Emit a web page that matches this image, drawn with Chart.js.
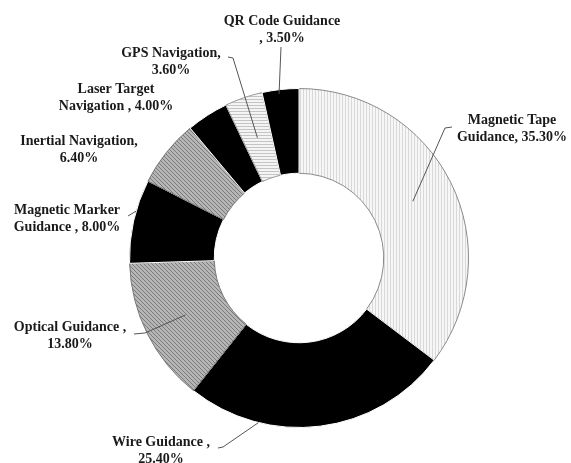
<!DOCTYPE html>
<html>
<head>
<meta charset="utf-8">
<script src="https://cdn.jsdelivr.net/npm/chart.js@4/dist/chart.umd.min.js"></script>
<style>
html,body{margin:0;padding:0;background:#fff;}
#wrap{width:571px;height:463px;position:relative;}
</style>
</head>
<body>
<div id="wrap"><canvas id="c" width="571" height="463"></canvas></div>
<script>
// ---- data ----
const categories = ["Magnetic Tape Guidance", "Wire Guidance", "Optical Guidance", "Magnetic Marker Guidance", "Inertial Navigation", "Laser Target Navigation", "GPS Navigation", "QR Code Guidance"];
const shares = [35.30, 25.40, 13.80, 8.00, 6.40, 4.00, 3.60, 3.50];
const labelLines = [
  ["Magnetic Tape", "Guidance, 35.30%"],
  ["Wire Guidance ,", "25.40%"],
  ["Optical Guidance ,", "13.80%"],
  ["Magnetic Marker", "Guidance , 8.00%"],
  ["Inertial Navigation,", "6.40%"],
  ["Laser Target", "Navigation , 4.00%"],
  ["GPS Navigation,", "3.60%"],
  ["QR Code Guidance", ", 3.50%"]
];
const fillKinds = ["vert", "solid", "diag", "solid", "diag", "solid", "horiz", "solid"];

// ---- label layout (positions, not data) ----
const labelPos = [
  {x: 512, y: 120}, {x: 161, y: 442}, {x: 70, y: 327}, {x: 67, y: 210},
  {x: 79, y: 141}, {x: 116, y: 89}, {x: 171, y: 53}, {x: 282, y: 21}
];
const leaders = [
  {pts: [[452,127],[445,128]], frac: 0.5, rad: 0.5},
  {pts: [[218,448],[223,447]], frac: 0.73, rad: 1.0},
  {pts: [[134,334],[145,333]], frac: 0.5, rad: 0.5},
  {pts: [[128,216]], frac: 0.62, rad: 1.0},
  null,
  null,
  {pts: [[228,57],[233,58]], frac: 0.5, rad: 0.5},
  {pts: [[281,47]], frac: 0.45, rad: 0.95}
];

function makePattern(kind){
  const c = document.createElement('canvas');
  const ctx = c.getContext('2d');
  if (kind === 'vert') {
    c.width = 3; c.height = 3;
    ctx.fillStyle = '#f7f7f7'; ctx.fillRect(0,0,3,3);
    ctx.fillStyle = '#d8d8d8'; ctx.fillRect(0,0,1,3);
  } else if (kind === 'horiz') {
    c.width = 3; c.height = 3;
    ctx.fillStyle = '#f4f4f4'; ctx.fillRect(0,0,3,3);
    ctx.fillStyle = '#c4c4c4'; ctx.fillRect(0,0,3,1);
  } else if (kind === 'diag') {
    c.width = 4; c.height = 4;
    ctx.fillStyle = '#b6b6b6'; ctx.fillRect(0,0,4,4);
    ctx.fillStyle = '#7a7a7a';
    for (let i = 0; i < 4; i++) ctx.fillRect(i, i, 1, 1);
  } else {
    return '#000';
  }
  return ctx.createPattern(c, 'repeat');
}

const bg = fillKinds.map(makePattern);
const borders = fillKinds.map(k => k === 'vert' ? '#8a8a8a' : (k === 'diag' ? '#777' : (k === 'horiz' ? '#999' : '#fff')));

const labelPlugin = {
  id: 'outLabels',
  afterDraw(chart){
    const ctx = chart.ctx;
    const meta = chart.getDatasetMeta(0);
    ctx.save();
    ctx.strokeStyle = '#555';
    ctx.lineWidth = 1;
    leaders.forEach((ld, i) => {
      if (!ld) return;
      const arc = meta.data[i];
      const a = arc.startAngle + (arc.endAngle - arc.startAngle) * ld.frac;
      const r = arc.innerRadius + (arc.outerRadius - arc.innerRadius) * ld.rad;
      const ex = arc.x + r * Math.cos(a), ey = arc.y + r * Math.sin(a);
      ctx.beginPath();
      ctx.moveTo(ld.pts[0][0], ld.pts[0][1]);
      for (let k = 1; k < ld.pts.length; k++) ctx.lineTo(ld.pts[k][0], ld.pts[k][1]);
      ctx.lineTo(ex, ey);
      ctx.stroke();
    });
    ctx.fillStyle = '#1a1a1a';
    ctx.font = 'bold 14px "Liberation Serif", "DejaVu Serif", serif';
    ctx.textAlign = 'center';
    ctx.textBaseline = 'middle';
    labelLines.forEach((lines, i) => {
      const p = labelPos[i];
      lines.forEach((t, j) => ctx.fillText(t, p.x, p.y + j * 17));
    });
    ctx.restore();
  }
};

new Chart(document.getElementById('c'), {
  type: 'doughnut',
  data: {
    labels: categories,
    datasets: [{
      data: shares,
      backgroundColor: bg,
      borderColor: borders,
      borderWidth: 1
    }]
  },
  options: {
    responsive: false,
    animation: false,
    cutout: '50%',
    rotation: 0,
    layout: {padding: {top: 88, bottom: 35, left: 129, right: 102}},
    plugins: {legend: {display: false}, tooltip: {enabled: false}},
    events: []
  },
  plugins: [labelPlugin]
});
</script>
</body>
</html>
